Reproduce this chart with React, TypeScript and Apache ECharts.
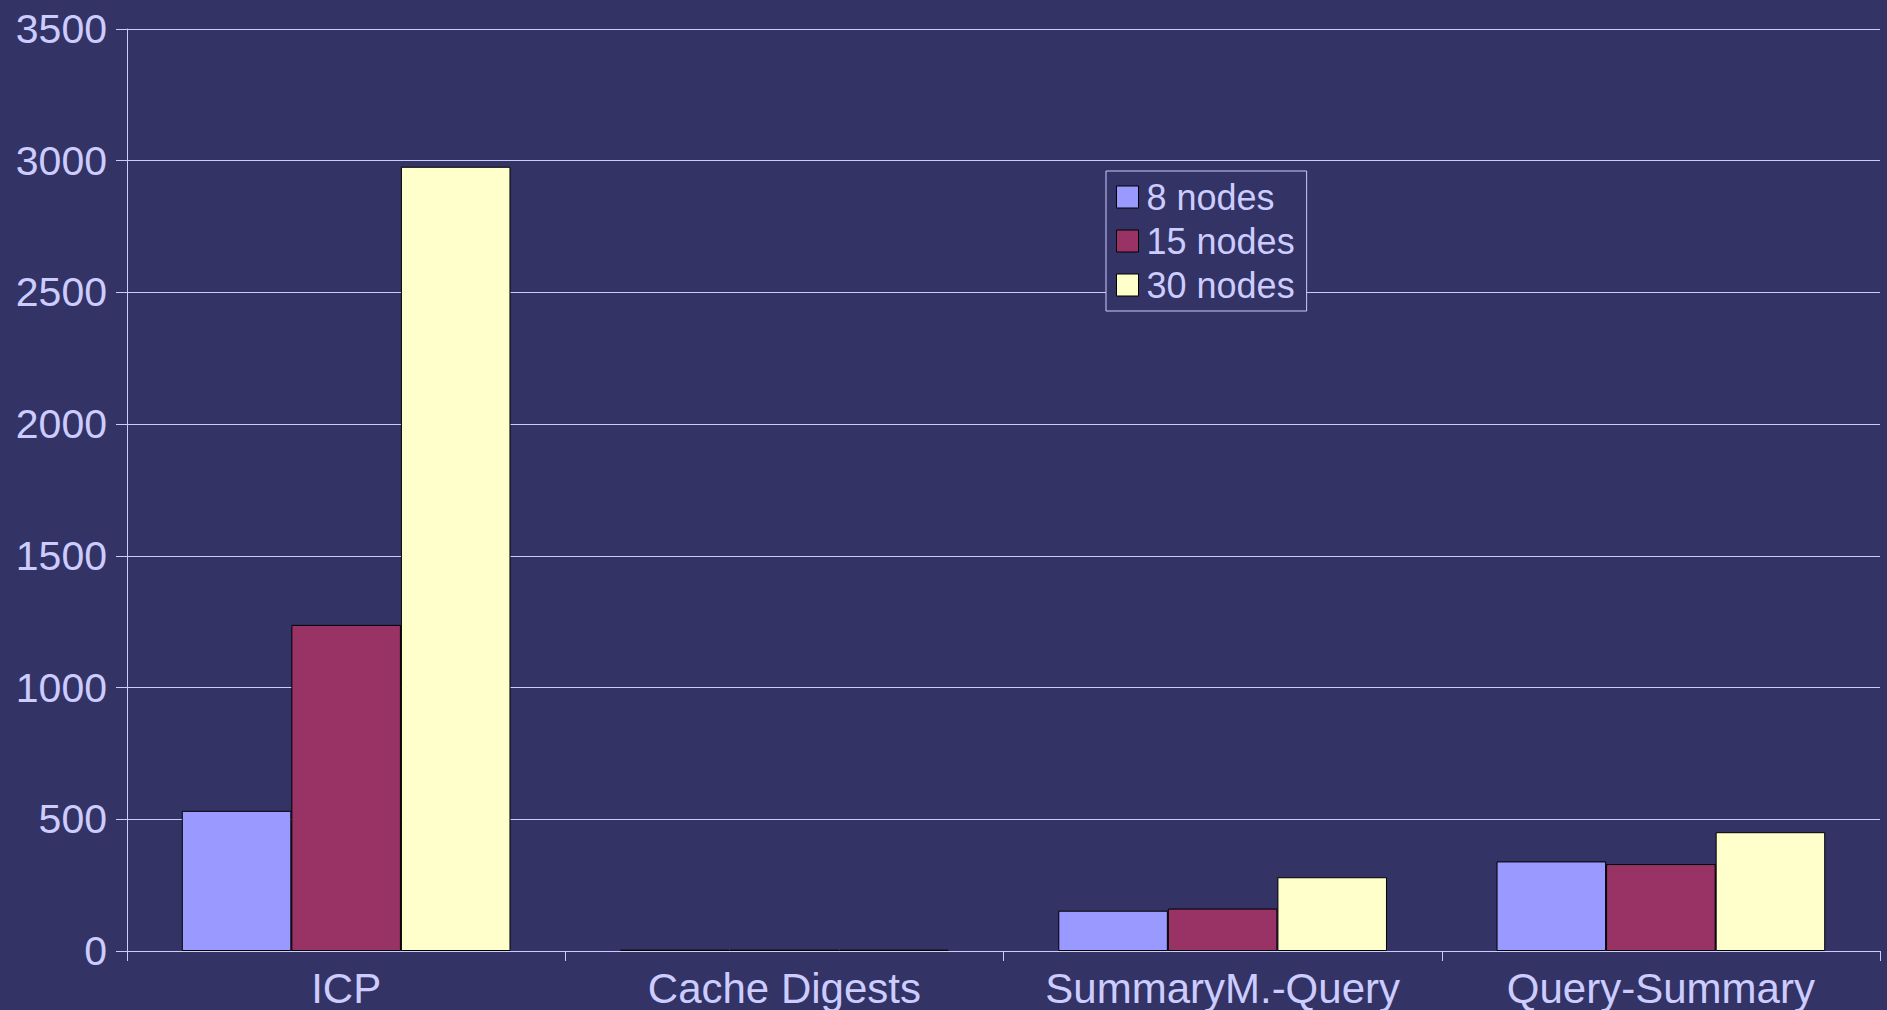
import React, { useEffect, useRef } from "react";
import * as echarts from "echarts";

const categories = ["ICP", "Cache Digests", "SummaryM.-Query", "Query-Summary"];
const seriesNames = ["8 nodes", "15 nodes", "30 nodes"];
const nodes8 = [532, 5, 153, 340];
const nodes15 = [1238, 5, 161, 330];
const nodes30 = [2977, 5, 280, 451];
const seriesColors = ["#9999FF", "#993366", "#FFFFCC"];
const yTicks = { min: 0, max: 3500, interval: 500 };

const FG = "#CCCCFF";
const FONT = "'Liberation Sans', Arial, Helvetica, sans-serif";

export default function App() {
  const ref = useRef<HTMLDivElement>(null);
  useEffect(() => {
    document.body.style.margin = "0";
    const chart = echarts.init(ref.current!, null, { renderer: "svg" });
    const values = [nodes8, nodes15, nodes30];
    chart.setOption({
      animation: false,
      backgroundColor: "#333366",
      textStyle: { fontFamily: FONT },
      grid: { left: 127, right: 7, top: 29, bottom: 59, containLabel: false },
      legend: {
        orient: "vertical",
        left: 1106,
        top: 171,
        padding: [8, 12, 8, 10],
        itemGap: 8,
        itemWidth: 22,
        itemHeight: 22,
        borderColor: FG,
        borderWidth: 1,
        backgroundColor: "#333366",
        icon: "rect",
        textStyle: { color: FG, fontSize: 36, lineHeight: 35, fontFamily: FONT, padding: [0, 0, 0, 3] },
        itemStyle: { borderColor: "#000", borderWidth: 1 },
        data: seriesNames,
      },
      xAxis: {
        type: "category",
        data: categories,
        boundaryGap: true,
        axisLine: { show: true, lineStyle: { color: FG, width: 1 } },
        axisTick: { show: true, alignWithLabel: false, length: 10, lineStyle: { color: FG } },
        axisLabel: { color: FG, fontSize: 42, margin: 16, fontFamily: FONT, interval: 0 },
        splitLine: { show: false },
      },
      yAxis: {
        type: "value",
        min: yTicks.min,
        max: yTicks.max,
        interval: yTicks.interval,
        axisLine: { show: true, lineStyle: { color: FG, width: 1 } },
        axisTick: { show: true, length: 11, lineStyle: { color: FG } },
        axisLabel: { color: FG, fontSize: 41, margin: 20, fontFamily: FONT, formatter: (v: number) => String(v) },
        splitLine: { show: true, lineStyle: { color: FG, width: 1 } },
      },
      series: seriesNames.map((name, i) => ({
        name,
        type: "bar",
        data: values[i],
        barGap: "0%",
        barCategoryGap: "25%",
        itemStyle: { color: seriesColors[i], borderColor: "#000", borderWidth: 1 },
      })),
    });
    return () => chart.dispose();
  }, []);
  return <div ref={ref} style={{ width: 1887, height: 1010 }} />;
}
